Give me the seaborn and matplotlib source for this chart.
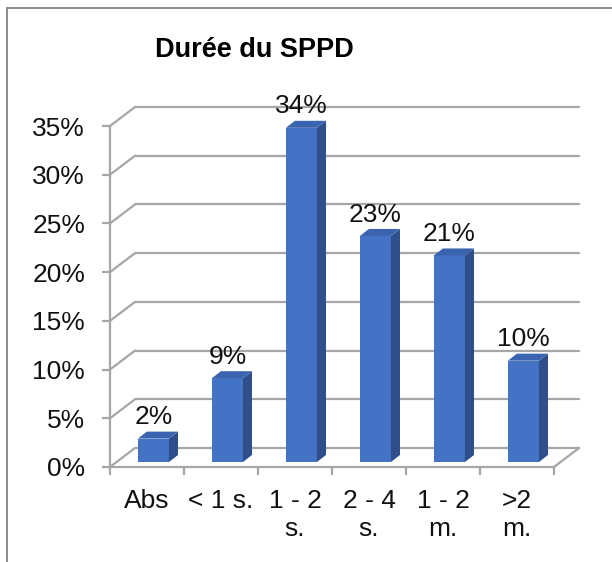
import matplotlib
matplotlib.use("Agg")
import matplotlib.pyplot as plt
from matplotlib.patches import Polygon
from matplotlib.lines import Line2D
import seaborn as sns
import pandas as pd

categories = ["Abs", "< 1 s.", "1 - 2\ns.", "2 - 4\ns.", "1 - 2\nm.", ">2\nm."]
values = [2.4, 8.6, 34.3, 23.2, 21.2, 10.4]
yticks = [0, 5, 10, 15, 20, 25, 30, 35]
ytick_labels = [f"{t}%" for t in yticks]
title = "Durée du SPPD"

sns.set_theme(style="white")
plt.rcParams["font.family"] = ["Liberation Sans", "DejaVu Sans"]

W, H = 612, 562
fig = plt.figure(figsize=(W / 100, H / 100), dpi=100)
fig.patch.set_facecolor("white")

# front plane in pixels: x 110..554, y 467 (0%) .. 126 (35%)
ax = fig.add_axes([110 / W, (H - 467) / H, 444 / W, 341 / H])
ax.set_facecolor("none")

df = pd.DataFrame({"cat": categories, "val": values})
sns.barplot(data=df, x="cat", y="val", order=categories, color="#4472C4",
            width=0.42, saturation=1, ax=ax, zorder=5, linewidth=0)

ax.set_xlim(-0.5, 5.5)
ax.set_ylim(0, 35)

grid_c = "#A6A6A6"
gdx, gdy = 0.338, 1.95   # back-wall depth offset (data units)
for t in yticks:
    ax.add_line(Line2D([-0.5, -0.5 + gdx], [t, t + gdy], color=grid_c, lw=1.6,
                       clip_on=False, zorder=1))
    ax.add_line(Line2D([-0.5 + gdx, 5.5 + gdx], [t + gdy, t + gdy], color=grid_c,
                       lw=1.6, clip_on=False, zorder=1))
ax.add_line(Line2D([5.5, 5.5 + gdx], [0, gdy], color=grid_c, lw=1.6,
                   clip_on=False, zorder=1))

# 3D bars
bdx, bdy = 0.122, 0.72
shift_x, base = 0.087, 0.513
front_c, side_c, top_c = "#4472C4", "#2E4F8C", "#3A64B0"
for p, v in zip(ax.patches, values):
    p.set_x(p.get_x() + shift_x)
    p.set_y(base)
    p.set_clip_on(False)
    xl = p.get_x()
    xr = xl + p.get_width()
    top = base + p.get_height()
    side = Polygon([(xr, base), (xr + bdx, base + bdy), (xr + bdx, top + bdy), (xr, top)],
                   closed=True, facecolor=side_c, edgecolor="none", zorder=5, clip_on=False)
    topf = Polygon([(xl, top), (xl + bdx, top + bdy), (xr + bdx, top + bdy), (xr, top)],
                   closed=True, facecolor=top_c, edgecolor="none", zorder=5, clip_on=False)
    ax.add_patch(side)
    ax.add_patch(topf)
    ax.text((xl + xr) / 2, top + bdy + 0.75, f"{round(v)}%", ha="center", va="baseline",
            fontsize=19, color="#111111", zorder=6, clip_on=False)

# axes styling
for s in ["top", "right"]:
    ax.spines[s].set_visible(False)
for s in ["left", "bottom"]:
    ax.spines[s].set_color(grid_c)
    ax.spines[s].set_linewidth(1.6)
    ax.spines[s].set_zorder(2)

ax.set_yticks(yticks)
ax.set_yticklabels(ytick_labels)
ax.tick_params(axis="y", length=6, width=1.6, color=grid_c, pad=12,
               labelsize=19, labelcolor="#111111", left=True, direction="out")
ax.set_xticks(range(len(categories)))
ax.set_xticklabels(categories, linespacing=1.2)
ax.set_xticks([i - 0.5 for i in range(len(categories) + 1)], minor=True)
ax.tick_params(axis="x", which="major", length=0, pad=16, labelsize=19,
               labelcolor="#111111")
ax.tick_params(axis="x", which="minor", length=6, width=1.6, color=grid_c,
               bottom=True, direction="out")
ax.set_xlabel("")
ax.set_ylabel("")

fig.text(254.5 / W, (H - 57) / H, title, ha="center", va="baseline",
         fontsize=19.5, fontweight="bold", color="#000000")

# outer frame (left and top)
border_c = "#8C8C8C"
fig.add_artist(Line2D([7 / W, 7 / W], [0, (H - 8) / H], color=border_c, lw=1.4,
                      transform=fig.transFigure))
fig.add_artist(Line2D([7 / W, 1], [(H - 8) / H, (H - 8) / H], color=border_c, lw=1.4,
                      transform=fig.transFigure))

fig.savefig("out.png", dpi=100)
